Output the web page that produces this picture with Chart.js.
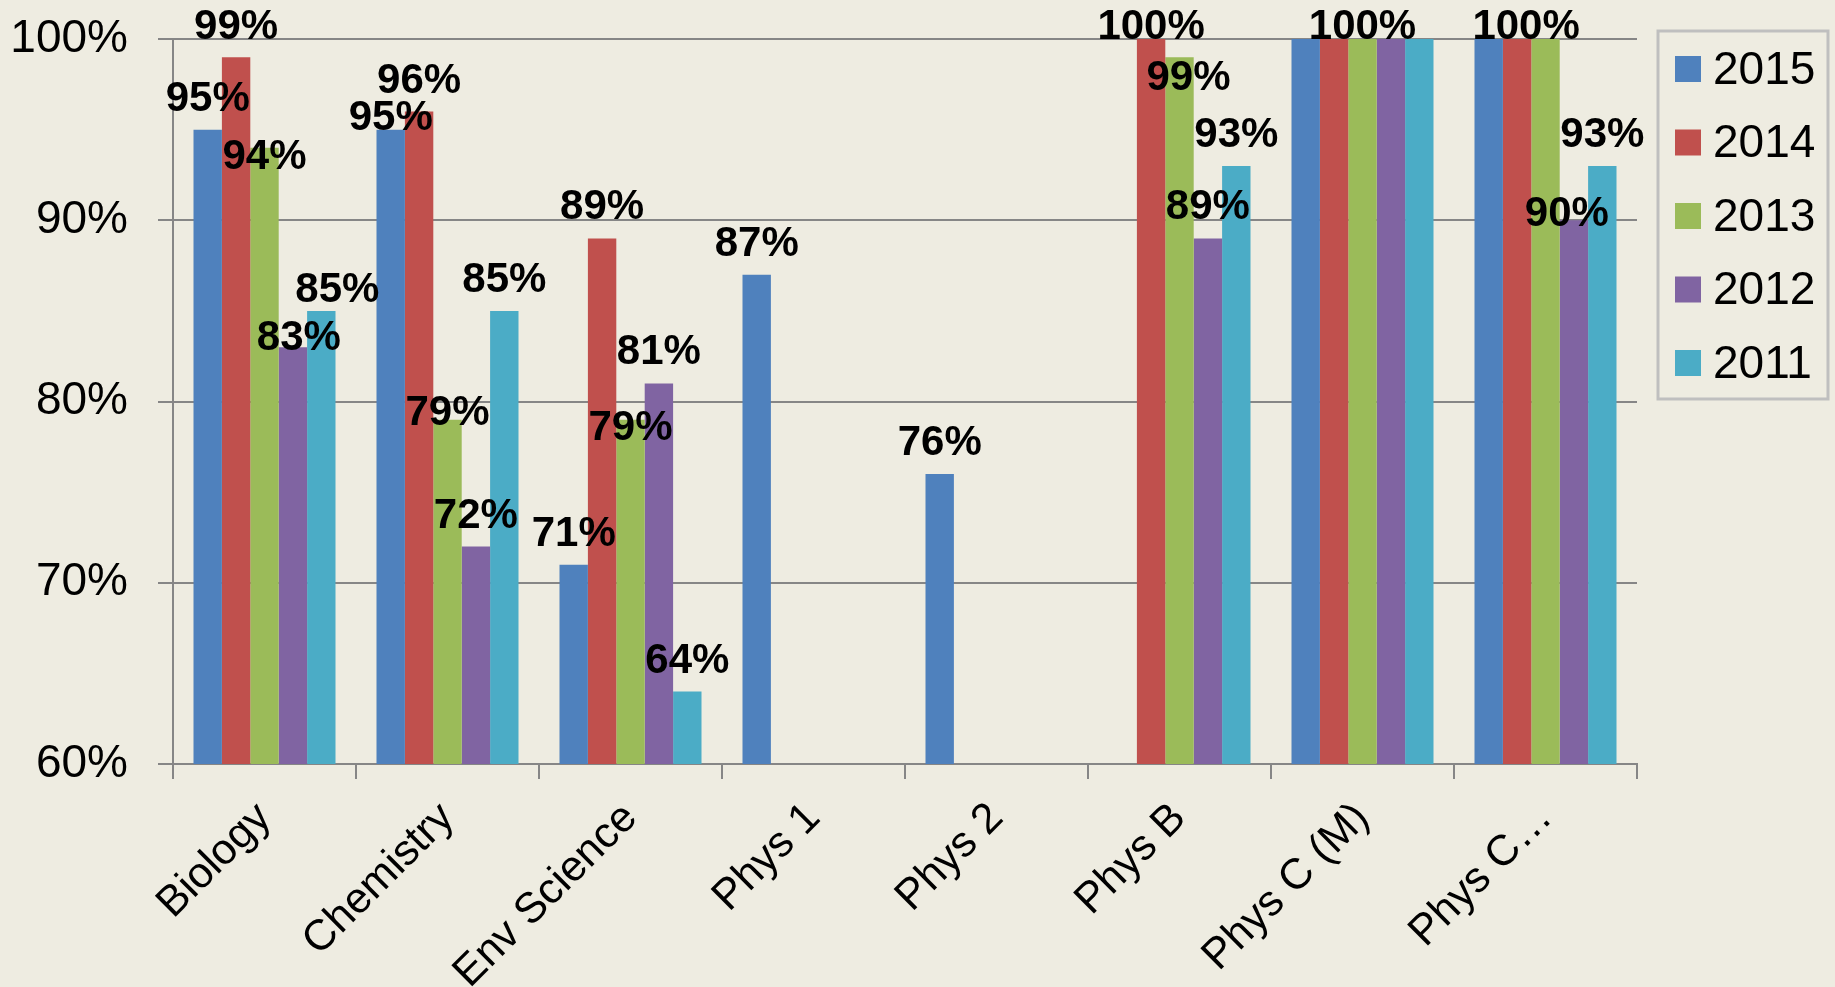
<!DOCTYPE html>
<html>
<head>
<meta charset="utf-8">
<title>AP Science pass rates</title>
<script src="https://cdn.jsdelivr.net/npm/chart.js@4.4.1/dist/chart.umd.min.js"></script>
<style>
  html, body { margin: 0; padding: 0; background: #EEECE1; }
  #wrap { width: 1835px; height: 987px; }
</style>
</head>
<body>
<div id="wrap"><canvas id="myChart" width="1835" height="987"></canvas></div>
<script>
'use strict';

//////////////////////
// data
//////////////////////

const subjects = ['Biology', 'Chemistry', 'Env Science', 'Phys 1', 'Phys 2', 'Phys B', 'Phys C (M)', 'Phys C…'];
const years = ['2015', '2014', '2013', '2012', '2011'];
const pass2015 = [95, 95, 71, 87, 76, null, 100, 100];
const pass2014 = [99, 96, 89, null, null, 100, 100, 100];
const pass2013 = [94, 79, 79, null, null, 99, 100, 100];
const pass2012 = [83, 72, 81, null, null, 89, 100, 90];
const pass2011 = [85, 85, 64, null, null, 93, 100, 93];
const yTicks = [60, 70, 80, 90, 100];

const yearColors = ['#4F81BD', '#C0504D', '#9BBB59', '#8064A2', '#4BACC6'];
const allSeries = [pass2015, pass2014, pass2013, pass2012, pass2011];

// labels that are not shown on the original ("dataset,category")
const hiddenLabels = ['0,6', '1,6', '3,6', '4,6', '0,7', '2,7'];
// small shifts of labels that were moved to avoid overlap [dx, dy]
const labelNudges = {
  '2,0': [0, 40], '3,0': [6, 22], '4,0': [16, 10],
  '0,1': [0, 19], '2,1': [0, 24],
  '2,2': [0, 39],
  '2,5': [9, 52],
  '1,7': [9, 0], '3,7': [-7, 25]
};

const fontFamily = 'Arial, "Liberation Sans", sans-serif';

//////////////////////
// plugins
//////////////////////

const valueLabels = {
  id: 'valueLabels',
  afterDatasetsDraw(chart) {
    const ctx = chart.ctx;
    ctx.save();
    ctx.font = `bold 42px ${fontFamily}`;
    ctx.fillStyle = '#000';
    ctx.textAlign = 'center';
    ctx.textBaseline = 'alphabetic';
    chart.data.datasets.forEach((ds, d) => {
      const meta = chart.getDatasetMeta(d);
      ds.data.forEach((v, i) => {
        if (v === null) return;
        const key = d + ',' + i;
        if (hiddenLabels.includes(key)) return;
        const bar = meta.data[i];
        const nudge = labelNudges[key] || [0, 0];
        let y = bar.y - 19 + nudge[1];
        if (y < 39) y = 39;
        ctx.fillText(v + '%', bar.x + nudge[0], y);
      });
    });
    ctx.restore();
  }
};

const boxLegend = {
  id: 'boxLegend',
  afterDraw(chart) {
    const ctx = chart.ctx;
    const left = chart.chartArea.right + 21;
    const top = 31;
    ctx.save();
    ctx.strokeStyle = '#BFBFBF';
    ctx.lineWidth = 3;
    ctx.strokeRect(left, top, 170, 368);
    ctx.font = `46px ${fontFamily}`;
    ctx.textBaseline = 'middle';
    ctx.textAlign = 'left';
    chart.data.datasets.forEach((ds, i) => {
      const cy = top + 38 + i * 73.5;
      ctx.fillStyle = ds.backgroundColor;
      ctx.fillRect(left + 17, cy - 13, 26, 26);
      ctx.fillStyle = '#000';
      ctx.fillText(ds.label, left + 55, cy + 2);
    });
    ctx.restore();
  }
};

//////////////////////
// chart
//////////////////////

function buildChart() {
  const datasets = [];
  for (let i = 0; i < years.length; i++) {
    datasets.push({
      label: years[i],
      data: allSeries[i],
      backgroundColor: yearColors[i],
      borderWidth: 0,
      categoryPercentage: 0.776,
      barPercentage: 1.0
    });
  }

  const config = {
    type: 'bar',
    data: { labels: subjects, datasets: datasets },
    options: {
      responsive: false,
      animation: false,
      layout: { padding: { top: 39, right: 198, left: 0, bottom: 0 } },
      plugins: {
        legend: { display: false },
        tooltip: { enabled: false }
      },
      scales: {
        x: {
          grid: { drawOnChartArea: false, drawTicks: true, tickLength: 15, color: '#868686', lineWidth: 2 },
          border: { color: '#868686', width: 2 },
          ticks: {
            color: '#000',
            font: { family: fontFamily, size: 43 },
            minRotation: 45,
            maxRotation: 45,
            padding: 14
          },
          afterFit(scale) { scale.height = 223; scale.paddingLeft = 0; scale.paddingRight = 0; }
        },
        y: {
          min: 60,
          max: 100,
          afterBuildTicks(scale) { scale.ticks = yTicks.map(v => ({ value: v })); },
          grid: { color: '#868686', lineWidth: 2, tickLength: 15 },
          border: { color: '#868686', width: 2 },
          ticks: {
            color: '#000',
            font: { family: fontFamily, size: 46 },
            padding: 30,
            callback: v => v + '%'
          },
          afterFit(scale) { scale.width = 173; scale.paddingTop = 0; scale.paddingBottom = 0; }
        }
      }
    },
    plugins: [valueLabels, boxLegend]
  };

  const canvasChart = document.getElementById('myChart');
  return new Chart(canvasChart, config);
}

buildChart();
</script>
</body>
</html>
